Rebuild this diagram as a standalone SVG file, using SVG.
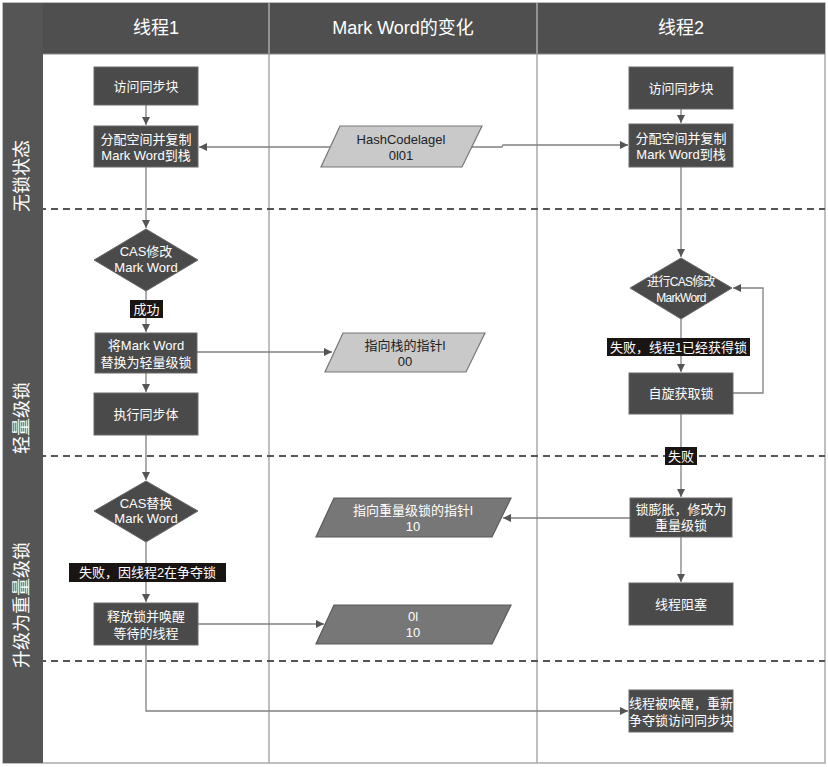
<svg xmlns="http://www.w3.org/2000/svg" width="828" height="767" viewBox="0 0 828 767">
<style>
text{font-family:"Liberation Sans","Noto Sans CJK SC",sans-serif;}
.box{fill:#4a4a4a;stroke:#6a6a6a;stroke-width:1;}
.bt{fill:#fff;font-size:13px;text-anchor:middle;dominant-baseline:central;}
.dt{fill:#222;font-size:13px;text-anchor:middle;dominant-baseline:central;}
.hd{fill:#fff;font-size:18px;text-anchor:middle;dominant-baseline:central;}
.lane{fill:#fff;font-size:18px;text-anchor:middle;dominant-baseline:central;}
.pl{fill:#c9c9c9;stroke:#777;stroke-width:1.2;}
.pd{fill:#777;stroke:#5a5a5a;stroke-width:1.2;}
.lab{fill:#1a1412;}
.c{fill:none;stroke:#808080;stroke-width:1.3;}
.dash{stroke:#555;stroke-width:2;stroke-dasharray:7,5;}
.grid{stroke:#aaa;stroke-width:1.5;fill:none;}
</style>
<defs>
<marker id="ah" markerWidth="10" markerHeight="10" refX="8" refY="4" orient="auto" markerUnits="userSpaceOnUse">
<path d="M0,0 L8,4 L0,8 Z" fill="#555"/>
</marker>
</defs>
<rect x="0" y="0" width="828" height="767" fill="#fff"/>
<g id="frame">
<rect x="3" y="3" width="822" height="760" class="grid"/>
<rect x="3" y="3" width="40" height="760" fill="#555"/>
<rect x="43" y="3" width="782" height="51" fill="#4f4f4f"/>
<line x1="269" y1="3" x2="269" y2="763" class="grid"/>
<line x1="537" y1="3" x2="537" y2="763" class="grid"/>
<line x1="43" y1="54" x2="825" y2="54" stroke="#888" stroke-width="1"/>
<line x1="3" y1="209" x2="825" y2="209" class="dash"/>
<line x1="3" y1="456" x2="825" y2="456" class="dash"/>
<line x1="3" y1="661" x2="825" y2="661" class="dash"/>
<text class="hd" x="156" y="28">线程1</text>
<text class="hd" x="403" y="28">Mark Word的变化</text>
<text class="hd" x="681" y="28">线程2</text>
<text class="lane" x="22" y="176" transform="rotate(-90 22 176)">无锁状态</text>
<text class="lane" x="22" y="418" transform="rotate(-90 22 418)">轻量级锁</text>
<text class="lane" x="22" y="605" transform="rotate(-90 22 605)">升级为重量级锁</text>
</g>
<g id="connectors">
<line class="c" x1="146" y1="105" x2="146" y2="125" marker-end="url(#ah)"/>
<line class="c" x1="146" y1="167" x2="146" y2="228" marker-end="url(#ah)"/>
<line class="c" x1="146" y1="291" x2="146" y2="332" marker-end="url(#ah)"/>
<line class="c" x1="146" y1="373" x2="146" y2="392" marker-end="url(#ah)"/>
<line class="c" x1="146" y1="435" x2="146" y2="480" marker-end="url(#ah)"/>
<line class="c" x1="146" y1="542" x2="146" y2="602" marker-end="url(#ah)"/>
<polyline class="c" points="146,645 146,711 628,711" marker-end="url(#ah)"/>
<line class="c" x1="197" y1="352" x2="332" y2="352" marker-end="url(#ah)"/>
<line class="c" x1="198" y1="624" x2="324" y2="624" marker-end="url(#ah)"/>
<line class="c" x1="331" y1="147" x2="199" y2="147" marker-end="url(#ah)"/>
<polyline class="c" points="472,147 502,147 503,145 628,145" marker-end="url(#ah)"/>
<line class="c" x1="681" y1="109" x2="681" y2="123" marker-end="url(#ah)"/>
<line class="c" x1="681" y1="167" x2="681" y2="257" marker-end="url(#ah)"/>
<line class="c" x1="681" y1="319" x2="681" y2="372" marker-end="url(#ah)"/>
<line class="c" x1="681" y1="414" x2="681" y2="497" marker-end="url(#ah)"/>
<line class="c" x1="681" y1="537" x2="681" y2="582" marker-end="url(#ah)"/>
<polyline class="c" points="733,393 763,393 763,288 733,288" marker-end="url(#ah)"/>
<line class="c" x1="630" y1="518" x2="503" y2="518" marker-end="url(#ah)"/>
<rect class="lab" x="130" y="300" width="33" height="18"/>
<text class="bt" x="146.5" y="309">成功</text>
<rect class="lab" x="607" y="338" width="143" height="18"/>
<text class="bt" x="678.5" y="347">失败，线程1已经获得锁</text>
<rect class="lab" x="665" y="447" width="32" height="18"/>
<text class="bt" x="681" y="456">失败</text>
<rect class="lab" x="69" y="563" width="157" height="19"/>
<text class="bt" x="147.5" y="572.5">失败，因线程2在争夺锁</text>
</g>
<g id="t1-access">
<rect class="box" x="94" y="67" width="104" height="38"/>
<text class="bt" x="146" y="86">访问同步块</text>
</g>
<g id="t1-copy">
<rect class="box" x="94" y="126" width="104" height="41"/>
<text class="bt" x="146" y="139">分配空间并复制</text>
<text class="bt" x="146" y="155">Mark Word到栈</text>
</g>
<g id="t1-cas">
<polygon class="box" points="146,229 198,260 146,291 94,260"/>
<text class="bt" x="146" y="251">CAS修改</text>
<text class="bt" x="146" y="267">Mark Word</text>
</g>
<g id="t1-replace">
<rect class="box" x="95" y="333" width="102" height="40"/>
<text class="bt" x="146" y="345">将Mark Word</text>
<text class="bt" x="146" y="362">替换为轻量级锁</text>
</g>
<g id="t1-exec">
<rect class="box" x="94" y="393" width="104" height="42"/>
<text class="bt" x="146" y="414">执行同步体</text>
</g>
<g id="t1-cas2">
<polygon class="box" points="146,481 198,511 146,542 94,511"/>
<text class="bt" x="146" y="503">CAS替换</text>
<text class="bt" x="146" y="518">Mark Word</text>
</g>
<g id="t1-release">
<rect class="box" x="94" y="603" width="104" height="42"/>
<text class="bt" x="146" y="616">释放锁并唤醒</text>
<text class="bt" x="146" y="633">等待的线程</text>
</g>
<g id="mw-hash">
<polygon class="pl" points="340,126 482,126 462,167 321,167"/>
<text class="dt" x="401" y="139">HashCodelagel</text>
<text class="dt" x="401" y="155">0l01</text>
</g>
<g id="mw-stack">
<polygon class="pl" points="343,333 485,333 466,372 325,372"/>
<text class="dt" x="405" y="345">指向栈的指针l</text>
<text class="dt" x="405" y="361">00</text>
</g>
<g id="mw-heavy">
<polygon class="pd" points="334,498 511,498 492,537 316,537"/>
<text class="bt" x="413" y="510">指向重量级锁的指针l</text>
<text class="bt" x="413" y="526">10</text>
</g>
<g id="mw-release">
<polygon class="pd" points="334,605 511,605 492,644 316,644"/>
<text class="bt" x="413" y="616">0l</text>
<text class="bt" x="413" y="632">10</text>
</g>
<g id="t2-access">
<rect class="box" x="629" y="67" width="104" height="42"/>
<text class="bt" x="681" y="88">访问同步块</text>
</g>
<g id="t2-copy">
<rect class="box" x="629" y="124" width="104" height="43"/>
<text class="bt" x="681" y="138">分配空间并复制</text>
<text class="bt" x="681" y="154">Mark Word到栈</text>
</g>
<g id="t2-cas">
<polygon class="box" points="681,258 732,288 681,319 630,288"/>
<text class="bt" x="681" y="282" style="font-size:12px;letter-spacing:-0.7px">进行CAS修改</text>
<text class="bt" x="681" y="298" style="font-size:12px;letter-spacing:-0.7px">MarkWord</text>
</g>
<g id="t2-spin">
<rect class="box" x="629" y="373" width="104" height="41"/>
<text class="bt" x="681" y="393">自旋获取锁</text>
</g>
<g id="t2-inflate">
<rect class="box" x="630" y="498" width="102" height="39"/>
<text class="bt" x="681" y="509">锁膨胀，修改为</text>
<text class="bt" x="681" y="525">重量级锁</text>
</g>
<g id="t2-block">
<rect class="box" x="629" y="583" width="104" height="42"/>
<text class="bt" x="681" y="604">线程阻塞</text>
</g>
<g id="t2-wake">
<rect class="box" x="629" y="690" width="104" height="42"/>
<text class="bt" x="681" y="703">线程被唤醒，重新</text>
<text class="bt" x="681" y="720">争夺锁访问同步块</text>
</g>
</svg>
